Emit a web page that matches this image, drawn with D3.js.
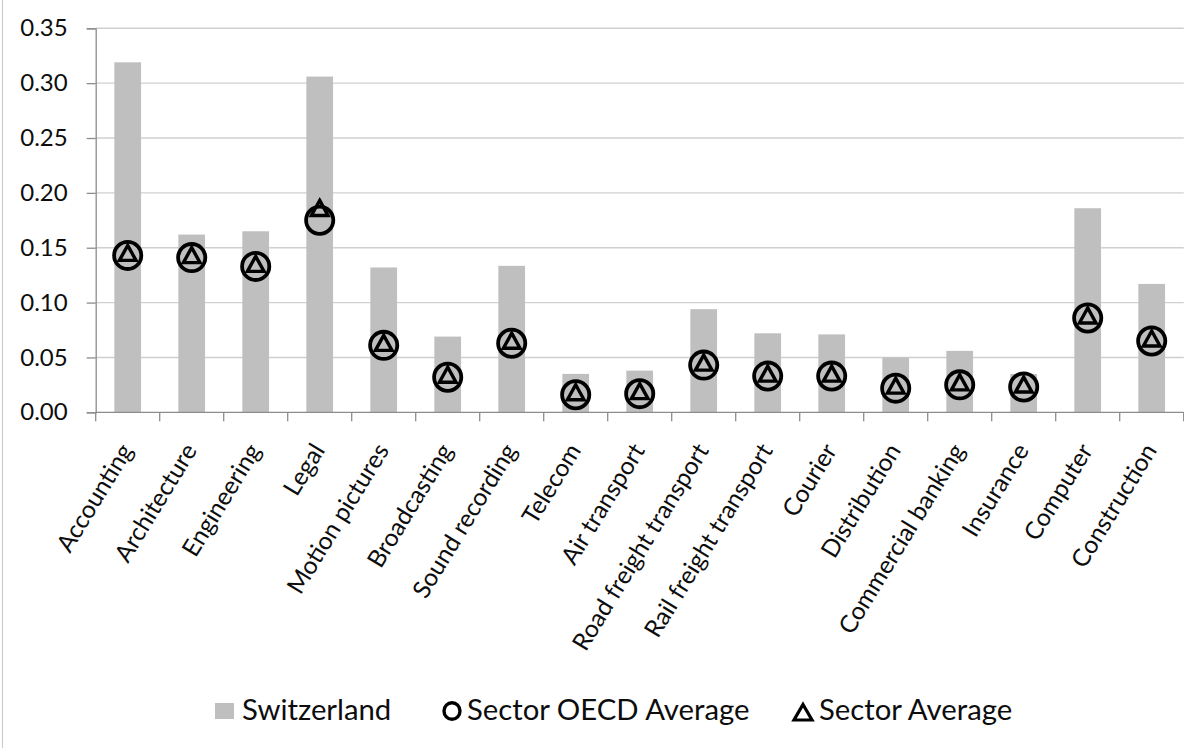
<!DOCTYPE html>
<html>
<head>
<meta charset="utf-8">
<script src="https://cdn.jsdelivr.net/npm/d3@7"></script>
<style>
  html, body { margin: 0; padding: 0; background: #ffffff; }
  svg { display: block; font-family: "Lato", "Liberation Sans", sans-serif; }
</style>
</head>
<body>
<svg id="chart" width="1184" height="749"></svg>
<script>
// Service sectors shown along the x axis
const categories = [
  "Accounting", "Architecture", "Engineering", "Legal", "Motion pictures",
  "Broadcasting", "Sound recording", "Telecom", "Air transport",
  "Road freight transport", "Rail freight transport", "Courier",
  "Distribution", "Commercial banking", "Insurance", "Computer", "Construction"
];

// Index values per sector
const switzerland = [
  0.319, 0.162, 0.165, 0.306, 0.132, 0.069, 0.1335, 0.035, 0.038,
  0.094, 0.072, 0.071, 0.050, 0.056, 0.035, 0.186, 0.117
];
const sectorOecdAverage = [
  0.143, 0.141, 0.133, 0.175, 0.061, 0.032, 0.063, 0.016, 0.017,
  0.043, 0.033, 0.033, 0.022, 0.025, 0.023, 0.086, 0.065
];
const sectorAverage = [
  0.143, 0.141, 0.133, 0.184, 0.061, 0.032, 0.063, 0.016, 0.017,
  0.043, 0.033, 0.033, 0.022, 0.025, 0.023, 0.086, 0.065
];

// Y axis ticks
const yTicks = [0, 0.05, 0.10, 0.15, 0.20, 0.25, 0.30, 0.35];

// Series names for the legend
const seriesNames = ["Switzerland", "Sector OECD Average", "Sector Average"];

const svg = d3.select("#chart");
svg.append("rect").attr("width", 1184).attr("height", 749).attr("fill", "#ffffff");

// Outer chart frame edge on the left
svg.append("line")
  .attr("x1", 2.5).attr("x2", 2.5).attr("y1", 0).attr("y2", 748)
  .attr("stroke", "#c8c8c8").attr("stroke-width", 1);

const plot = { left: 95.7, right: 1183.7, top: 28.3, bottom: 412.3 };

const x = d3.scaleBand().domain(categories).range([plot.left, plot.right]).padding(0);
const y = d3.scaleLinear().domain([0, 0.35]).range([plot.bottom, plot.top]);

const barWidth = 26.7;
const textColor = "#0d0d0d";

// Horizontal gridlines
svg.append("g")
  .selectAll("line")
  .data(yTicks.filter(d => d > 0))
  .join("line")
  .attr("x1", plot.left).attr("x2", plot.right)
  .attr("y1", d => y(d)).attr("y2", d => y(d))
  .attr("stroke", "#d0d0d0").attr("stroke-width", 1.4);

// Bars
svg.append("g")
  .selectAll("rect")
  .data(categories)
  .join("rect")
  .attr("x", (d) => x(d) + x.bandwidth() / 2 - barWidth / 2)
  .attr("width", barWidth)
  .attr("y", (d, i) => y(switzerland[i]))
  .attr("height", (d, i) => y(0) - y(switzerland[i]))
  .attr("fill", "#bfbfbf");

// Y axis
const yAxis = svg.append("g")
  .attr("transform", `translate(${plot.left},0)`)
  .call(d3.axisLeft(y).tickValues(yTicks).tickFormat(d3.format(".2f")).tickSize(9).tickPadding(19));
yAxis.select(".domain").attr("stroke", "#8c8c8c").attr("stroke-width", 1.3);
yAxis.selectAll(".tick line").attr("stroke", "#8c8c8c").attr("stroke-width", 1.3);
yAxis.selectAll(".tick text")
  .attr("font-size", 24).attr("fill", textColor)
  .attr("font-family", "Lato, sans-serif");

// X axis: ticks sit on category boundaries
const xAxisG = svg.append("g");
xAxisG.append("line")
  .attr("x1", plot.left).attr("x2", plot.right)
  .attr("y1", y(0)).attr("y2", y(0))
  .attr("stroke", "#8c8c8c").attr("stroke-width", 1.3);
const boundaries = categories.map(c => x(c)).concat([x(categories[categories.length - 1]) + x.bandwidth()]);
xAxisG.selectAll("line.tk")
  .data(boundaries)
  .join("line").attr("class", "tk")
  .attr("x1", d => d).attr("x2", d => d)
  .attr("y1", y(0)).attr("y2", y(0) + 9)
  .attr("stroke", "#8c8c8c").attr("stroke-width", 1.3);

// Rotated category labels
xAxisG.selectAll("text")
  .data(categories)
  .join("text")
  .attr("transform", d => `translate(${x(d) + x.bandwidth() / 2 + 6},${y(0) + 38}) rotate(-58.5)`)
  .attr("text-anchor", "end")
  .attr("font-size", 24.5)
  .attr("fill", textColor)
  .text(d => d);

// Sector OECD average markers (circles)
svg.append("g")
  .selectAll("circle")
  .data(categories)
  .join("circle")
  .attr("cx", d => x(d) + x.bandwidth() / 2)
  .attr("cy", (d, i) => y(sectorOecdAverage[i]))
  .attr("r", 13.6)
  .attr("fill", "none")
  .attr("stroke", "#000000")
  .attr("stroke-width", 3.8);

// Sector average markers (triangles)
const triPath = "M0,-10L8.3,5L-8.3,5Z";
svg.append("g")
  .selectAll("path")
  .data(categories)
  .join("path")
  .attr("transform", (d, i) => `translate(${x(d) + x.bandwidth() / 2},${y(sectorAverage[i])})`)
  .attr("d", triPath)
  .attr("fill", "none")
  .attr("stroke", "#000000")
  .attr("stroke-width", 3.4)
  .attr("stroke-linejoin", "miter");

// Legend
const legend = svg.append("g").attr("font-size", 29.3).attr("fill", textColor);
const legendY = 711;
legend.append("rect")
  .attr("x", 215).attr("y", 703).attr("width", 19).attr("height", 16)
  .attr("fill", "#bfbfbf");
legend.append("text").attr("x", 242).attr("y", 720).text(seriesNames[0]);

legend.append("ellipse")
  .attr("cx", 452).attr("cy", legendY).attr("rx", 8).attr("ry", 8.3)
  .attr("fill", "none").attr("stroke", "#000").attr("stroke-width", 3.4);
legend.append("text").attr("x", 467).attr("y", 720).text(seriesNames[1]);

legend.append("path")
  .attr("transform", `translate(803,${legendY + 2})`)
  .attr("d", "M0,-8.5L9,7L-9,7Z")
  .attr("fill", "none").attr("stroke", "#000").attr("stroke-width", 3.2);
legend.append("text").attr("x", 819).attr("y", 720).text(seriesNames[2]);
</script>
</body>
</html>
